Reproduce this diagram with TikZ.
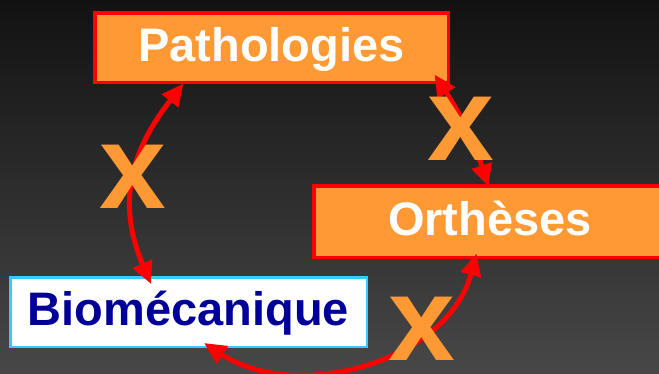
\documentclass[tikz,border=0pt]{standalone}
\usepackage{fontspec}
\setmainfont{Liberation Sans}
\usetikzlibrary{arrows.meta}
\definecolor{boxorange}{HTML}{FF9933}
\definecolor{boxred}{HTML}{FF0000}
\definecolor{boxcyan}{HTML}{33CCFF}
\definecolor{textnavy}{HTML}{000099}
\begin{document}
\begin{tikzpicture}[x = 1pt, y = -1pt,
	box/.style = {rectangle, inner sep = 0, text height = 36pt, text depth = 9pt, font = \fontsize{47}{50}\selectfont\bfseries},
	hot/.style = {box, draw = boxred, line width = 3.5pt, fill = boxorange, text = white},
	cold/.style = {box, draw = boxcyan, line width = 2.5pt, fill = white, text = textnavy},
	cross/.style = {text = boxorange, inner sep = 0, anchor = base, font = \fontsize{120}{120}\selectfont\bfseries},
	link/.style = {draw = boxred, line width = 5pt, <->, >={Triangle[length = 22pt, width = 20pt]}}]
	\useasboundingbox (0, 0) rectangle (659, 373);
	\clip (0, 0) rectangle (659, 373);
	\shade[top color = black!93, bottom color = black!72] (0, 0) rectangle (659, 373);
	% the three boxes
	\node[hot, minimum width = 353.5pt, minimum height = 69.5pt] (patho) at (271.5, 47.5) {Pathologies};
	\node[hot, minimum width = 352.5pt, minimum height = 71.5pt] (orth) at (490, 221.5) {Orthèses};
	\node[cold, minimum width = 356.5pt, minimum height = 69.5pt] (bio) at (188.5, 312) {Biomécanique};
	% curved links between them
	\draw[link] ([xshift = 90.5pt, yshift = 0.5pt]patho.south west) to[out = -128, in = 113, looseness = 1.1] ([xshift = 142pt, yshift = -8pt]bio.north west);
	\draw[link] ([xshift = -15.5pt, yshift = 9.5pt]patho.south east) to[out = -57, in = 108] ([xshift = 176.5pt, yshift = -2.5pt]orth.north west);
	\draw[link] ([xshift = 164.5pt, yshift = 5.5pt]orth.south west) to[out = -105, in = -33] ([xshift = 195pt, yshift = 5pt]bio.south west);
	% crosses on the links
	\node[cross] (x1) at (133, 208) {x};
	\node[cross] (x2) at (460.5, 160) {x};
	\node[cross] (x3) at (421.5, 360) {x};
\end{tikzpicture}
\end{document}
